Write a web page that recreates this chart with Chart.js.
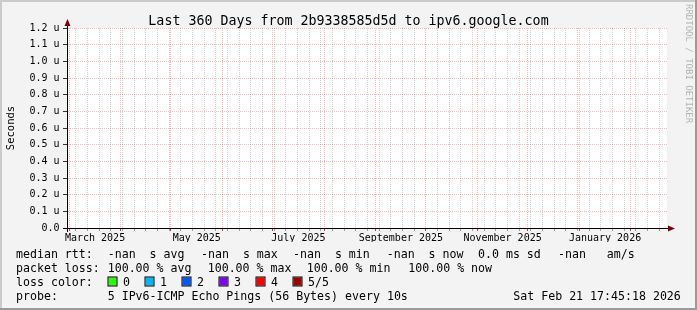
<!DOCTYPE html>
<html>
<head>
<meta charset="utf-8">
<script src="https://cdn.jsdelivr.net/npm/chart.js@4.4.1/dist/chart.umd.min.js"></script>
<style>
  html, body { margin: 0; padding: 0; background: #f3f3f3; }
</style>
</head>
<body>
<canvas id="smoke" width="697" height="310"></canvas>
<script>
const DAY = 86400000;
const utc = s => { const [y, m, d] = s.split('-').map(Number); return Date.UTC(y, m - 1, d || 1); };

// time window of the graph (360 days)
const windowStart = Date.UTC(2025, 1, 27, 16, 0);
const windowDays = 360;

// grid / label positions on the time axis
const gridMonths = ['2025-03', '2025-04', '2025-05', '2025-06', '2025-07', '2025-08', '2025-09',
  '2025-10', '2025-11', '2025-12', '2026-01', '2026-02'];
const labelMonths = ['2025-03', '2025-05', '2025-07', '2025-09', '2025-11', '2026-01'];
const monthLabels = ['March 2025', 'May 2025', 'July 2025', 'September 2025', 'November 2025', 'January 2026'];
const firstMinor = '2025-03-05';

// y axis ticks (microseconds)
const yTicks = [0.0, 0.1, 0.2, 0.3, 0.4, 0.5, 0.6, 0.7, 0.8, 0.9, 1.0, 1.1, 1.2];

// median rtt series: nothing was received, every value is nan
const rttDates = ['2025-02-28', '2026-02-21'];
const medianRtt = [null, null];

// legend
const rttSummary = ['-nan  s avg', '-nan  s max', '-nan  s min', '-nan  s now', '0.0 ms sd', '-nan   am/s'];
const lossSummary = ['100.00 % avg', '100.00 % max', '100.00 % min', '100.00 % now'];
const lossLevels = ['0', '1', '2', '3', '4', '5/5'];
const lossColors = ['#26ff00', '#00b8ff', '#0059ff', '#7e00ff', '#ff0000', '#a10000'];
const probeText = '5 IPv6-ICMP Echo Pings (56 Bytes) every 10s';
const stampText = 'Sat Feb 21 17:45:18 2026';
const titleText = 'Last 360 Days from 2b9338585d5d to ipv6.google.com';

const dayOf = t => (t - windowStart) / DAY;
const MONO = '"DejaVu Sans Mono", monospace';

const xTicks = [];
gridMonths.forEach(m => xTicks.push({ value: dayOf(utc(m)), kind: 'major' }));
for (let t = utc(firstMinor); dayOf(t) < windowDays; t += 7 * DAY) {
  if (!gridMonths.some(m => Math.abs(utc(m) - t) < DAY / 2)) xTicks.push({ value: dayOf(t), kind: 'minor' });
}
labelMonths.forEach((m, i) => {
  const a = utc(m), d = new Date(a);
  const b = Date.UTC(d.getUTCFullYear(), d.getUTCMonth() + 1, 1);
  xTicks.push({ value: dayOf((a + b) / 2), kind: 'label', text: monthLabels[i] });
});
xTicks.sort((p, q) => p.value - q.value);

const MAJOR = 'rgba(255,0,0,0.28)';
const MINOR = 'rgba(128,128,128,0.38)';

const rrdLook = {
  id: 'rrdLook',
  beforeDraw(chart) {
    const { ctx, chartArea: a } = chart;
    ctx.save();
    ctx.fillStyle = '#f3f3f3';
    ctx.fillRect(0, 0, 697, 310);
    ctx.fillStyle = '#cbcbcb';
    ctx.fillRect(0, 0, 697, 2);
    ctx.fillRect(0, 0, 2, 310);
    ctx.fillStyle = '#9b9b9b';
    ctx.fillRect(0, 308, 697, 2);
    ctx.fillRect(695, 0, 2, 310);
    ctx.fillStyle = '#ffffff';
    ctx.fillRect(a.left, a.top, a.right - a.left, a.bottom - a.top);
    ctx.restore();
  },
  afterDraw(chart) {
    const { ctx, chartArea: a } = chart;
    ctx.save();
    // axis extensions and arrows
    ctx.strokeStyle = '#000';
    ctx.lineWidth = 1;
    ctx.beginPath();
    ctx.moveTo(a.left + 0.5, a.bottom + 4);
    ctx.lineTo(a.left + 0.5, a.top - 4);
    ctx.moveTo(a.left - 4, a.bottom + 0.5);
    ctx.lineTo(a.right + 2, a.bottom + 0.5);
    ctx.stroke();
    ctx.fillStyle = '#7f0000';
    ctx.beginPath();
    ctx.moveTo(a.left + 0.5, a.top - 9);
    ctx.lineTo(a.left - 2.5, a.top - 2);
    ctx.lineTo(a.left + 3.5, a.top - 2);
    ctx.fill();
    ctx.beginPath();
    ctx.moveTo(a.right + 8, a.bottom + 0.5);
    ctx.lineTo(a.right + 1, a.bottom - 2.5);
    ctx.lineTo(a.right + 1, a.bottom + 3.5);
    ctx.fill();

    // title
    ctx.fillStyle = '#000';
    ctx.font = '13.3px ' + MONO;
    ctx.textAlign = 'center';
    ctx.textBaseline = 'alphabetic';
    ctx.fillText(titleText, 348.5, 24.5);

    // vertical axis title
    ctx.save();
    ctx.translate(11, (a.top + a.bottom) / 2);
    ctx.rotate(-Math.PI / 2);
    ctx.font = '10.5px ' + MONO;
    ctx.textBaseline = 'middle';
    ctx.fillText('Seconds', 0, 0);
    ctx.restore();

    // watermark
    ctx.save();
    ctx.translate(688, 4);
    ctx.rotate(Math.PI / 2);
    ctx.font = '9px ' + MONO;
    ctx.fillStyle = '#b4b4b4';
    ctx.textAlign = 'left';
    ctx.textBaseline = 'middle';
    ctx.fillText('RRDTOOL / TOBI OETIKER', 0, 0);
    ctx.restore();

    // legend
    ctx.font = '11.6px ' + MONO;
    ctx.textAlign = 'left';
    ctx.textBaseline = 'alphabetic';
    ctx.fillStyle = '#000';
    ctx.fillText('median rtt:', 16, 258);
    [107.7, 201, 293, 386.7, 478, 558].forEach((x, i) => ctx.fillText(rttSummary[i], x, 258));
    ctx.fillText('packet loss:', 16, 272);
    [107.7, 207.7, 306.7, 408.3].forEach((x, i) => ctx.fillText(lossSummary[i], x, 272));
    ctx.fillText('loss color:', 16, 286);
    lossLevels.forEach((lv, i) => {
      const x = 108.5 + i * 37;
      ctx.fillStyle = lossColors[i];
      ctx.fillRect(x, 277.5, 8, 8);
      ctx.strokeStyle = '#000';
      ctx.strokeRect(x - 0.5, 277, 9, 9);
      ctx.fillStyle = '#000';
      ctx.fillText(lv, x + 14.5, 286);
    });
    ctx.fillText('probe:', 16, 300);
    ctx.fillText(probeText, 107.7, 300);
    ctx.fillText(stampText, 513.3, 300);
    ctx.restore();
  }
};

const canvas = document.getElementById('smoke');
new Chart(canvas.getContext('2d'), {
  type: 'line',
  data: {
    datasets: [{
      label: 'median rtt',
      data: rttDates.map((d, i) => ({ x: dayOf(utc(d)), y: medianRtt[i] })),
      borderColor: lossColors[5],
      borderWidth: 2,
      pointRadius: 0,
      spanGaps: false
    }]
  },
  options: {
    responsive: false,
    animation: false,
    devicePixelRatio: 1,
    layout: { padding: { left: 0, top: 28, right: 30, bottom: 68 } },
    plugins: { legend: { display: false }, tooltip: { enabled: false }, title: { display: false } },
    scales: {
      x: {
        type: 'linear',
        min: 0,
        max: windowDays,
        afterFit: s => { s.height = 14; },
        afterBuildTicks: s => { s.ticks = xTicks.map(t => ({ ...t })); },
        ticks: {
          autoSkip: false,
          maxRotation: 0,
          padding: 1,
          color: '#000',
          font: { family: MONO, size: 10 },
          callback: (v, i, ticks) => ticks[i].kind === 'label' ? ticks[i].text : ''
        },
        grid: {
          color: c => c.tick.kind === 'major' ? MAJOR : c.tick.kind === 'minor' ? MINOR : 'rgba(0,0,0,0)',
          tickColor: c => c.tick.kind === 'major' ? '#e03030' : c.tick.kind === 'minor' ? '#a0a0a0' : 'rgba(0,0,0,0)',
          tickLength: 3,
          lineWidth: 1
        },
        border: { display: true, color: '#000', dash: [1, 1] }
      },
      y: {
        type: 'linear',
        min: 0,
        max: 1.2,
        afterFit: s => { s.width = 67; },
        afterBuildTicks: s => { s.ticks = yTicks.map(v => ({ value: v })); },
        ticks: {
          padding: 3.5,
          color: '#000',
          font: { family: MONO, size: 10 },
          callback: v => v === 0 ? '0.0' : v.toFixed(1) + ' u'
        },
        grid: {
          color: c => c.tick.value === 0 ? 'rgba(0,0,0,0)' : MAJOR,
          tickColor: '#333',
          tickLength: 4,
          lineWidth: 1
        },
        border: { display: true, color: '#000', dash: [1, 1] }
      }
    }
  },
  plugins: [rrdLook]
});
</script>
</body>
</html>
